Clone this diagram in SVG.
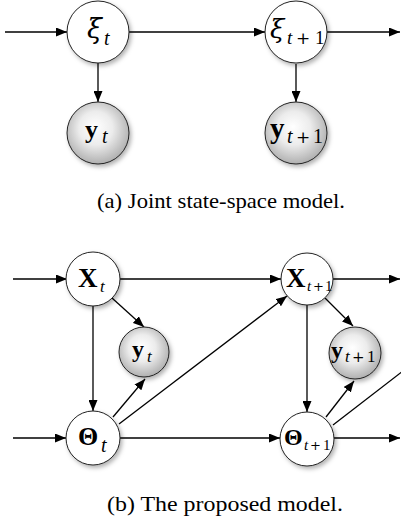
<svg xmlns="http://www.w3.org/2000/svg" width="401" height="523" viewBox="0 0 401 523">
<defs>
  <marker id="arr" viewBox="0 0 11 9" refX="11" refY="4.5" markerWidth="11" markerHeight="9" markerUnits="userSpaceOnUse" orient="auto">
    <path d="M0,0 L11,4.5 L0,9 Z" fill="#000"/>
  </marker>
  <radialGradient id="ball" cx="0.48" cy="0.45" r="0.6" fx="0.45" fy="0.4">
    <stop offset="0" stop-color="#ffffff"/>
    <stop offset="0.45" stop-color="#ececec"/>
    <stop offset="1" stop-color="#a6a6a6"/>
  </radialGradient>
  <filter id="sh" x="-30%" y="-30%" width="160%" height="160%">
    <feDropShadow dx="2" dy="2.5" stdDeviation="2" flood-color="#000" flood-opacity="0.3"/>
  </filter>
  <style>
    .lat { fill:#fff; stroke:#222; stroke-width:1; filter:url(#sh); }
    .obs { fill:url(#ball); stroke:#222; stroke-width:1; filter:url(#sh); }
    .e { fill:none; stroke:#000; stroke-width:1.3; marker-end:url(#arr); }
    .en { fill:none; stroke:#000; stroke-width:1.3; }
    text { font-family:"Liberation Serif", "DejaVu Serif", serif; fill:#000; }
    .g { font-family:"DejaVu Serif", "Liberation Serif", serif; font-style:italic; }
    .pl { font-family:"DejaVu Serif", "Liberation Serif", serif; }
    .it { font-style:italic; }
    .b { font-weight:bold; }
    .cap { font-size:22px; }
  </style>
</defs>

<g id="connectors">
  <path class="e" d="M5,32 L67,32"/>
  <path class="e" d="M129,32 L265,32"/>
  <path class="e" d="M327,32 L400,32"/>
  <path class="e" d="M98,63 L98,102"/>
  <path class="e" d="M296,64 L296,102"/>

  <path class="e" d="M13,279 L67,279"/>
  <path class="e" d="M120,279 L281,279"/>
  <path class="e" d="M333,279 L400,279"/>
  <path class="e" d="M112,298 L144,327"/>
  <path class="e" d="M93,306 L93,411"/>
  <path class="e" d="M13,438 L66,438"/>
  <path class="e" d="M120,438 L280,438"/>
  <path class="e" d="M334,438 L400,438"/>
  <path class="e" d="M113,417 L145,379"/>
  <path class="e" d="M119,424 L287,296"/>
  <path class="e" d="M325,298 L353,326"/>
  <path class="e" d="M307,305 L307,412"/>
  <path class="e" d="M326,417 L354,381"/>
  <path class="en" d="M333,425 L403,371"/>
</g>

<g id="xi_t">
  <circle class="lat" cx="98" cy="32" r="31"/>
  <text><tspan class="g" x="87" y="38" font-size="27">ξ</tspan><tspan class="it" x="104" y="45" font-size="20">t</tspan></text>
</g>
<g id="xi_t1">
  <circle class="lat" cx="296" cy="32" r="31"/>
  <text><tspan class="g" x="270" y="38" font-size="26">ξ</tspan><tspan class="it" x="287" y="44" font-size="19">t</tspan><tspan class="pl" x="296" y="44" font-size="17">+</tspan><tspan x="315" y="44" font-size="19">1</tspan></text>
</g>
<g id="y_t_a">
  <circle class="obs" cx="98" cy="133" r="31"/>
  <text><tspan class="b" x="85" y="138" font-size="26">y</tspan><tspan class="it" x="102" y="143" font-size="20">t</tspan></text>
</g>
<g id="y_t1_a">
  <circle class="obs" cx="296" cy="133" r="31"/>
  <text><tspan class="b" x="270" y="138" font-size="29">y</tspan><tspan class="it" x="287" y="143" font-size="20">t</tspan><tspan class="pl" x="296" y="143" font-size="17">+</tspan><tspan x="313" y="143" font-size="20">1</tspan></text>
</g>

<g id="X_t">
  <circle class="lat" cx="93" cy="279" r="27"/>
  <text><tspan class="b" x="78" y="287" font-size="27">X</tspan><tspan class="it" x="100" y="292" font-size="17">t</tspan></text>
</g>
<g id="X_t1">
  <circle class="lat" cx="307" cy="279" r="26"/>
  <text><tspan class="b" x="286" y="287" font-size="27">X</tspan><tspan class="it" x="307" y="291" font-size="15">t</tspan><tspan class="pl" x="313" y="291" font-size="13">+</tspan><tspan x="325" y="291" font-size="15">1</tspan></text>
</g>
<g id="y_t_b">
  <circle class="obs" cx="144" cy="352" r="25"/>
  <text><tspan class="b" x="132" y="357" font-size="24">y</tspan><tspan class="it" x="147" y="362" font-size="17">t</tspan></text>
</g>
<g id="y_t1_b">
  <circle class="obs" cx="355" cy="353" r="26"/>
  <text><tspan class="b" x="331" y="358" font-size="24">y</tspan><tspan class="it" x="345" y="362" font-size="17">t</tspan><tspan class="pl" x="352" y="362" font-size="15">+</tspan><tspan x="367" y="362" font-size="17">1</tspan></text>
</g>
<g id="Theta_t">
  <circle class="lat" cx="93" cy="438" r="27"/>
  <text><tspan class="b" x="78" y="445" font-size="26">Θ</tspan><tspan class="it" x="101" y="452" font-size="20">t</tspan></text>
</g>
<g id="Theta_t1">
  <circle class="lat" cx="307" cy="439" r="27"/>
  <text><tspan class="b" x="284" y="445" font-size="24">Θ</tspan><tspan class="it" x="304" y="450" font-size="15">t</tspan><tspan class="pl" x="310" y="450" font-size="13">+</tspan><tspan x="323" y="450" font-size="15">1</tspan></text>
</g>

<g id="captions">
  <text x="97" y="208" class="cap" textLength="248" lengthAdjust="spacingAndGlyphs">(a) Joint state-space model.</text>
  <text x="107" y="511" class="cap" textLength="236" lengthAdjust="spacingAndGlyphs">(b) The proposed model.</text>
</g>
</svg>
